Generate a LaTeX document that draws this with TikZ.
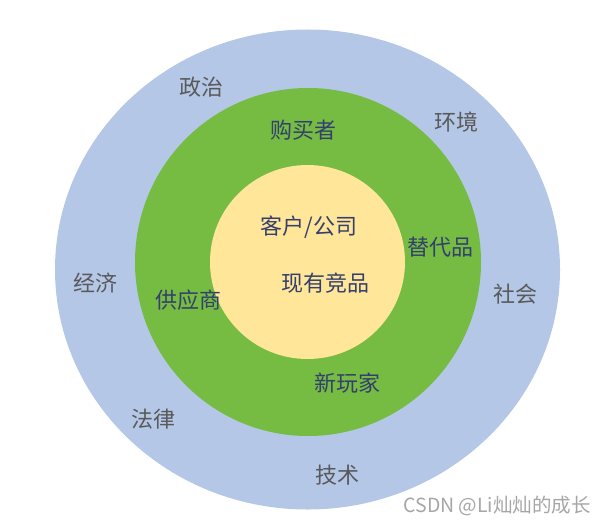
\documentclass[tikz,border=0pt]{standalone}
\usepackage{fontspec}
\setmainfont{Noto Sans CJK SC}
\definecolor{outerblue}{HTML}{B4C7E7}
\definecolor{midgreen}{HTML}{76BC43}
\definecolor{inyellow}{HTML}{FFE699}
\definecolor{greytext}{HTML}{595959}
\definecolor{navytext}{HTML}{333F6E}
\definecolor{wmark}{HTML}{A6A6A6}
\begin{document}
\begin{tikzpicture}[x=1pt,y=-1pt,
  outerlab/.style={text=greytext,font=\fontsize{22}{22}\selectfont,inner sep=0pt},
  innerlab/.style={text=navytext,font=\fontsize{22}{22}\selectfont,inner sep=0pt}]
\useasboundingbox (0,0) rectangle (607,524);
\fill[outerblue] (307.5,269.5) ellipse [x radius=252.5, y radius=240];
\fill[midgreen] (308,262) ellipse [x radius=173, y radius=174];
\fill[inyellow] (307.5,262) ellipse [x radius=97.5, y radius=97];
\node[outerlab] (zz) at (201,87) {政治};
\node[outerlab] (hj) at (456,122) {环境};
\node[outerlab] (jj) at (95,283) {经济};
\node[outerlab] (sh) at (515,294) {社会};
\node[outerlab] (fl) at (153,419) {法律};
\node[outerlab] (js) at (337,475) {技术};
\node[innerlab] (gmz) at (303,130) {购买者};
\node[innerlab] (tdp) at (440,247) {替代品};
\node[innerlab] (gys) at (188,300) {供应商};
\node[innerlab] (xwj) at (347,383) {新玩家};
\node[innerlab] (kh) at (309,227) {客户/公司};
\node[innerlab] (xy) at (325,283) {现有竞品};
\node[text=wmark,font=\fontsize{19.5}{19.5}\selectfont,inner sep=0pt,anchor=east] (wm) at (591,506) {CSDN @Li灿灿的成长};
\end{tikzpicture}
\end{document}
